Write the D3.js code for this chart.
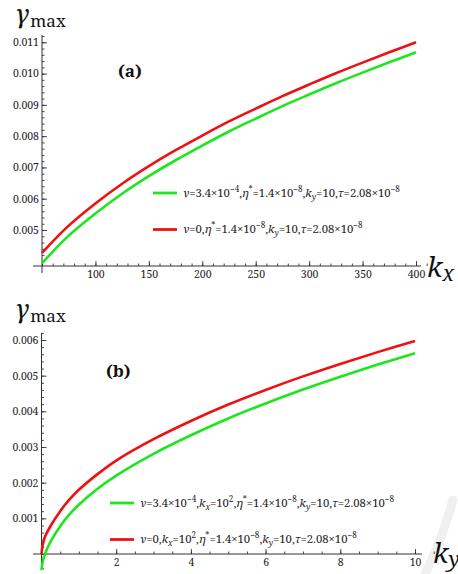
<!DOCTYPE html>
<html>
<head>
<meta charset="utf-8">
<script src="https://cdn.jsdelivr.net/npm/d3@7"></script>
<style>
  body { margin: 0; background: #fff; }
  svg text, svg tspan { font-family: "Noto Serif", serif !important; }
</style>
</head>
<body>
<div id="chart"></div>
<script>
// panel (a): growth rate vs k_x
var kxA = [50, 75, 100, 125, 150, 175, 200, 225, 250, 275, 300, 325, 350, 375, 400];
var greenA = [0.00394, 0.00482, 0.00553, 0.00616, 0.00672, 0.00723, 0.00770, 0.00815,
              0.00856, 0.00896, 0.00933, 0.00969, 0.01003, 0.01036, 0.01068];
var redA = [0.00427, 0.00514, 0.00585, 0.00648, 0.00704, 0.00755, 0.00802, 0.00847,
            0.00888, 0.00928, 0.00965, 0.01001, 0.01035, 0.01068, 0.01100];
var xTicksA = [100, 150, 200, 250, 300, 350, 400];
var yTicksA = [0.005, 0.006, 0.007, 0.008, 0.009, 0.010, 0.011];

// panel (b): growth rate vs k_y
var kyB = [0, 0.02, 0.05, 0.1, 0.25, 0.5, 0.75, 1, 1.5, 2, 3, 4, 5, 6, 7, 8, 9, 10];
var greenB = [-0.00045, -0.00028, -0.00014, 0.00002, 0.00036, 0.00078, 0.00111, 0.00138,
              0.00183, 0.00220, 0.00281, 0.00333, 0.00380, 0.00422, 0.00461, 0.00497, 0.00531, 0.00563];
var redB = [0, 0.00018, 0.00033, 0.0005, 0.0008, 0.0012, 0.00153, 0.0018,
            0.00224, 0.00262, 0.00322, 0.00373, 0.00419, 0.00460, 0.00498, 0.00533, 0.00566, 0.00597];
var xTicksB = [2, 4, 6, 8, 10];
var yTicksB = [0.001, 0.002, 0.003, 0.004, 0.005, 0.006];

var legendA = [
  [['ν', 'i'], ['=3.4×10', ''], ['−4', 'sup'], [',', ''], ['η', 'i'], ['*', 'sup'], ['=1.4×10', ''], ['−8', 'sup'],
   [',', ''], ['k', 'i'], ['y', 'subi'], ['=10,', ''], ['τ', 'i'], ['=2.08×10', ''], ['−8', 'sup']],
  [['ν', 'i'], ['=0,', ''], ['η', 'i'], ['*', 'sup'], ['=1.4×10', ''], ['−8', 'sup'],
   [',', ''], ['k', 'i'], ['y', 'subi'], ['=10,', ''], ['τ', 'i'], ['=2.08×10', ''], ['−8', 'sup']]
];
var legendB = [
  [['ν', 'i'], ['=3.4×10', ''], ['−4', 'sup'], [',', ''], ['k', 'i'], ['x', 'subi'], ['=10', ''], ['2', 'sup'],
   [',', ''], ['η', 'i'], ['*', 'sup'], ['=1.4×10', ''], ['−8', 'sup'],
   [',', ''], ['k', 'i'], ['y', 'subi'], ['=10,', ''], ['τ', 'i'], ['=2.08×10', ''], ['−8', 'sup']],
  [['ν', 'i'], ['=0,', ''], ['k', 'i'], ['x', 'subi'], ['=10', ''], ['2', 'sup'],
   [',', ''], ['η', 'i'], ['*', 'sup'], ['=1.4×10', ''], ['−8', 'sup'],
   [',', ''], ['k', 'i'], ['y', 'subi'], ['=10,', ''], ['τ', 'i'], ['=2.08×10', ''], ['−8', 'sup']]
];

var colors = ['#1ee61e', '#ee1111'];

var svg = d3.select('#chart').append('svg')
  .attr('width', 458)
  .attr('height', 574);

// faint watermark swoosh at the bottom right
svg.append('path')
  .attr('d', 'M453,500 Q441,542 425,574')
  .attr('fill', 'none')
  .attr('stroke', '#f0f0f0')
  .attr('stroke-width', 9)
  .attr('stroke-linecap', 'round');

function richText(sel, segs, size) {
  var shift = 0;
  segs.forEach(function(s) {
    var st = s[1];
    var t = sel.append('tspan').text(s[0]);
    var target = st.indexOf('sup') == 0 ? -size * 0.42 : st.indexOf('sub') == 0 ? size * 0.28 : 0;
    if (target - shift != 0) t.attr('dy', target - shift);
    shift = target;
    if (st.indexOf('sup') == 0 || st.indexOf('sub') == 0) t.attr('font-size', size * 0.72);
    if (st == 'i' || st == 'subi') t.attr('font-style', 'italic');
  });
}

function drawPanel(p) {
  var g = svg.append('g');
  var x = d3.scaleLinear().domain(p.xDomain).range(p.xRange);
  var y = d3.scaleLinear().domain(p.yDomain).range(p.yRange);
  var x0 = p.xRange[0], y0 = p.yRange[0];

  // minor ticks
  g.append('g')
    .attr('transform', 'translate(0,' + y0 + ')')
    .call(d3.axisBottom(x).tickValues(p.xMinor).tickSize(-2.5).tickFormat(''))
    .call(function(a) { a.select('.domain').remove(); });
  g.append('g')
    .attr('transform', 'translate(' + x0 + ',0)')
    .call(d3.axisLeft(y).tickValues(p.yMinor).tickSize(-2.5).tickFormat(''))
    .call(function(a) { a.select('.domain').remove(); });

  // major ticks + labels
  var xa = g.append('g')
    .attr('transform', 'translate(0,' + y0 + ')')
    .call(d3.axisBottom(x).tickValues(p.xTicks).tickSize(-5).tickPadding(5).tickFormat(p.xFormat));
  var ya = g.append('g')
    .attr('transform', 'translate(' + x0 + ',0)')
    .call(d3.axisLeft(y).tickValues(p.yTicks).tickSize(-5).tickPadding(4).tickFormat(d3.format('.3f')));
  [xa, ya].forEach(function(a) {
    a.select('.domain').remove();
    a.selectAll('text').attr('font-size', 10.5).attr('fill', '#222');
  });
  ya.selectAll('text').attr('x', -3);
  g.selectAll('.tick line').attr('stroke', '#333').attr('stroke-width', 0.9);

  // axis lines
  g.append('line')
    .attr('x1', p.axisX[0]).attr('x2', p.axisX[1])
    .attr('y1', y0).attr('y2', y0)
    .attr('stroke', '#333').attr('stroke-width', 1);
  g.append('line')
    .attr('x1', x0).attr('x2', x0)
    .attr('y1', p.axisY[0]).attr('y2', p.axisY[1])
    .attr('stroke', '#333').attr('stroke-width', 1);

  // curves
  var line = d3.line()
    .x(function(d) { return x(d[0]); })
    .y(function(d) { return y(d[1]); })
    .curve(d3.curveCatmullRom.alpha(0.5));
  p.series.forEach(function(s, i) {
    g.append('path')
      .datum(p.xs.map(function(v, j) { return [v, s[j]]; }))
      .attr('d', line)
      .attr('fill', 'none')
      .attr('stroke', colors[i])
      .attr('stroke-width', 2.6);
  });

  // legend
  p.legend.forEach(function(segs, i) {
    var ly = p.legendY[i];
    g.append('line')
      .attr('x1', p.legendX).attr('x2', p.legendX + 24)
      .attr('y1', ly).attr('y2', ly)
      .attr('stroke', colors[i]).attr('stroke-width', 2.8);
    var t = g.append('text')
      .attr('x', p.legendX + 30)
      .attr('y', ly + 3.5)
      .attr('font-size', 11.3)
      .attr('fill', '#222');
    richText(t, segs, 11.3);
  });

  // y title
  var yt = g.append('text').attr('x', 15).attr('y', p.titleY).attr('fill', '#111');
  yt.append('tspan').text('γ').attr('font-style', 'italic').attr('font-size', 26);
  yt.append('tspan').text('max').attr('font-size', 17).attr('dy', 4).attr('dx', 1);

  // x title
  var xt = g.append('text').attr('x', p.kPos[0]).attr('y', p.kPos[1]).attr('fill', '#111').attr('font-style', 'italic');
  xt.append('tspan').text('k').attr('font-size', 27);
  xt.append('tspan').text(p.kSub).attr('font-size', 21).attr('dy', 4);

  // panel tag
  g.append('text')
    .attr('x', p.tag[0]).attr('y', p.tag[1])
    .attr('font-size', 17).attr('font-weight', 'bold').attr('fill', '#111')
    .text(p.tag[2]);
}

drawPanel({
  xDomain: [50, 400], xRange: [42, 416],
  yDomain: [0.00385, 0.011], yRange: [266, 42.3],
  xTicks: xTicksA, yTicks: yTicksA,
  xMinor: d3.range(50, 421, 10), yMinor: d3.range(0.004, 0.01121, 0.0002),
  xFormat: d3.format('d'),
  axisX: [33, 421], axisY: [273, 35],
  xs: kxA, series: [greenA, redA],
  legend: legendA, legendX: 153, legendY: [193, 229.5],
  titleY: 23, kPos: [427, 277], kSub: 'x',
  tag: [118, 77, '(a)']
});

drawPanel({
  xDomain: [0, 10], xRange: [41.5, 415],
  yDomain: [0, 0.006], yRange: [554, 340],
  xTicks: xTicksB, yTicks: yTicksB,
  xMinor: d3.range(0.5, 10.6, 0.5), yMinor: d3.range(-0.0004, 0.00621, 0.0002),
  xFormat: d3.format('d'),
  axisX: [33, 422], axisY: [570, 333],
  xs: kyB, series: [greenB, redB],
  legend: legendB, legendX: 110, legendY: [503, 539.5],
  titleY: 318, kPos: [433, 563], kSub: 'y',
  tag: [106, 377, '(b)']
});
</script>
</body>
</html>
